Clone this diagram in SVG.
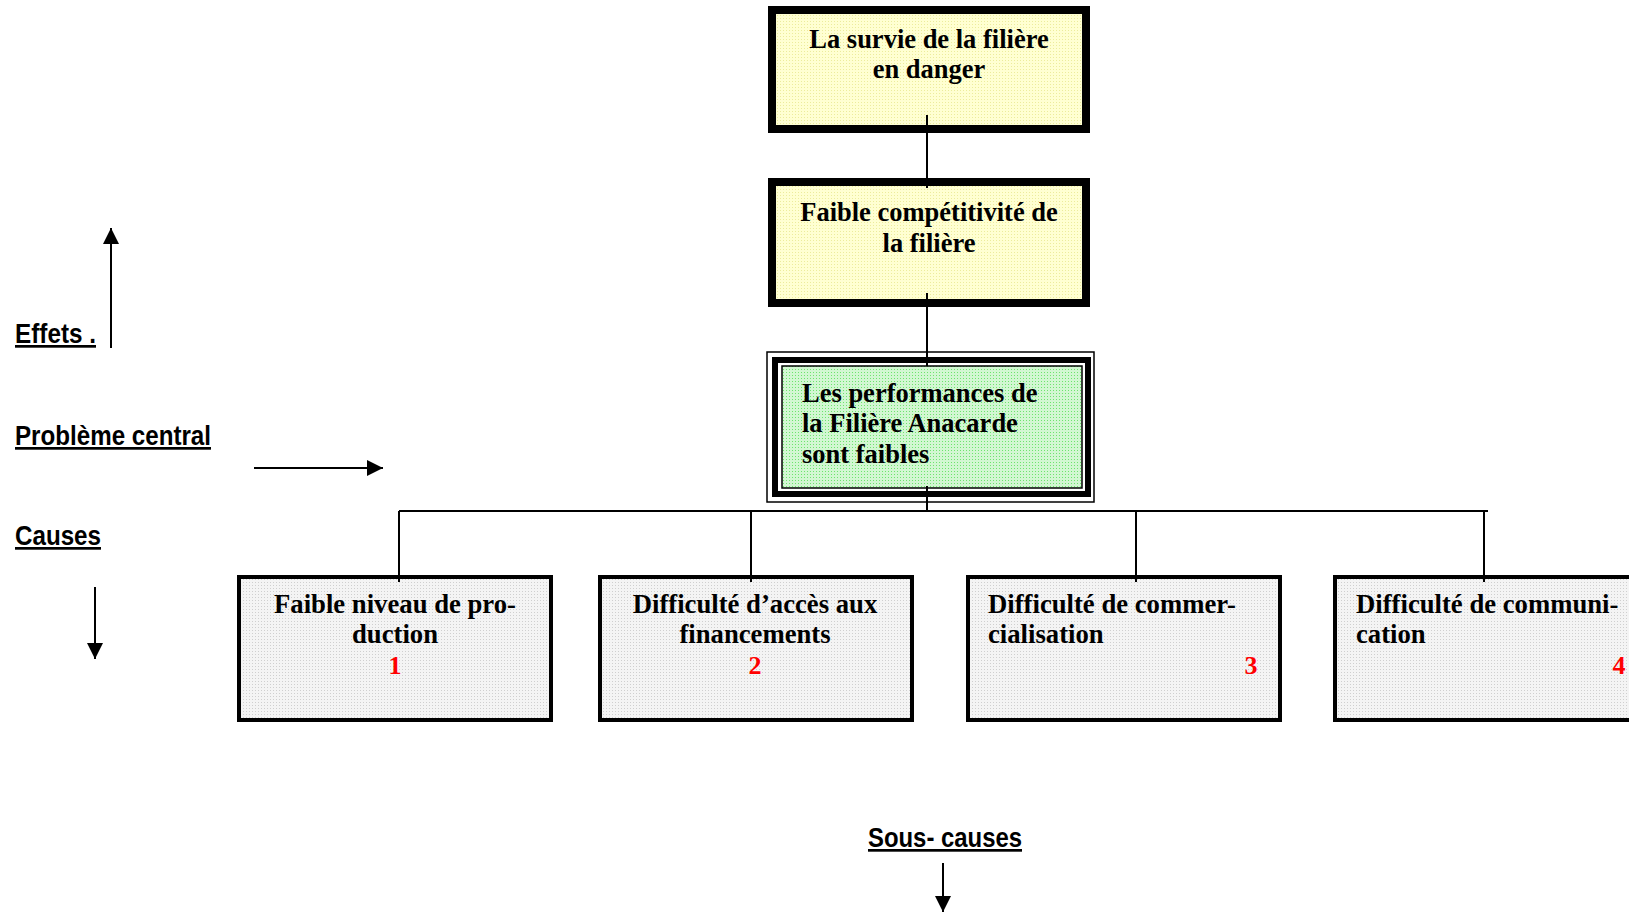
<svg xmlns="http://www.w3.org/2000/svg" width="1629" height="912" viewBox="0 0 1629 912">
<defs>
<pattern id="py" width="3" height="3" patternUnits="userSpaceOnUse"><rect width="3" height="3" fill="#ffffd2"/><rect width="1" height="1" fill="#ecec9c"/></pattern>
<pattern id="pg" width="3" height="3" patternUnits="userSpaceOnUse"><rect width="3" height="3" fill="#d2f7d2"/><rect width="1" height="1" fill="#6de46d"/></pattern>
<pattern id="pw" width="3" height="3" patternUnits="userSpaceOnUse"><rect width="3" height="3" fill="#f4f4f4"/><rect width="1" height="1" fill="#cfcfcf"/></pattern>
<marker id="ah2" viewBox="0 0 16 16" refX="16" refY="8" markerWidth="16" markerHeight="16" markerUnits="userSpaceOnUse" orient="auto"><path d="M0,0 L16,8 L0,16 z" fill="#000"/></marker>
</defs>
<style>
.t{font-family:"Liberation Serif","Times New Roman",serif;font-weight:bold;font-size:26.5px;fill:#000}
.b{font-family:"Liberation Serif","Times New Roman",serif;font-weight:bold;font-size:26.7px;fill:#000}
.n{font-family:"Liberation Serif","Times New Roman",serif;font-weight:bold;font-size:26px;fill:#ff0000}
.l{font-family:"Liberation Sans",Arial,sans-serif;font-weight:bold;font-size:27px;fill:#000;text-decoration:underline}
.ln{stroke:#000;stroke-width:2;fill:none}
.ar{stroke:#000;stroke-width:2;fill:none}
</style>

<g id="legend">
<text class="l" x="15" y="343" textLength="81" lengthAdjust="spacingAndGlyphs">Effets .</text>
<text class="l" x="15" y="445" textLength="196" lengthAdjust="spacingAndGlyphs">Problème central</text>
<text class="l" x="15" y="545" textLength="86" lengthAdjust="spacingAndGlyphs">Causes</text>
<text class="l" x="868" y="847" textLength="154" lengthAdjust="spacingAndGlyphs">Sous- causes</text>
<line class="ar" x1="111" y1="348" x2="111" y2="228" marker-end="url(#ah2)"/>
<line class="ar" x1="254" y1="468" x2="383" y2="468" marker-end="url(#ah2)"/>
<line class="ar" x1="95" y1="587" x2="95" y2="659" marker-end="url(#ah2)"/>
<line class="ar" x1="943" y1="863" x2="943" y2="912" marker-end="url(#ah2)"/>
</g>

<g id="effet2">
<rect x="772" y="10" width="314" height="119" fill="url(#py)" stroke="#000" stroke-width="8"/>
<text class="t" x="929" y="48" text-anchor="middle">La survie de la filière</text>
<text class="t" x="929" y="78" text-anchor="middle">en danger</text>
</g>

<g id="effet1">
<rect x="772" y="182" width="314" height="121" fill="url(#py)" stroke="#000" stroke-width="8"/>
<text class="t" x="929" y="221" text-anchor="middle">Faible compétitivité de</text>
<text class="t" x="929" y="252" text-anchor="middle">la filière</text>
</g>

<g id="probleme">
<rect x="767" y="352" width="327" height="150" fill="#fff" stroke="#000" stroke-width="1.5"/>
<rect x="775" y="360" width="313" height="134" fill="#fff" stroke="#000" stroke-width="6"/>
<rect x="782" y="366" width="300" height="122" fill="url(#pg)" stroke="#000" stroke-width="1.5"/>
<text class="t" x="802" y="402">Les performances de</text>
<text class="t" x="802" y="432">la Filière Anacarde</text>
<text class="t" x="802" y="463">sont faibles</text>
</g>

<g id="cause1">
<rect x="239" y="577" width="312" height="143" fill="url(#pw)" stroke="#000" stroke-width="4"/>
<text class="b" x="395" y="613" text-anchor="middle">Faible niveau de pro-</text>
<text class="b" x="395" y="643" text-anchor="middle">duction</text>
<text class="n" x="395" y="674" text-anchor="middle">1</text>
</g>

<g id="cause2">
<rect x="600" y="577" width="312" height="143" fill="url(#pw)" stroke="#000" stroke-width="4"/>
<text class="b" x="755" y="613" text-anchor="middle">Difficulté d’accès aux</text>
<text class="b" x="755" y="643" text-anchor="middle">financements</text>
<text class="n" x="755" y="674" text-anchor="middle">2</text>
</g>

<g id="cause3">
<rect x="968" y="577" width="312" height="143" fill="url(#pw)" stroke="#000" stroke-width="4"/>
<text class="b" x="988" y="613">Difficulté de commer-</text>
<text class="b" x="988" y="643">cialisation</text>
<text class="n" x="1251" y="674" text-anchor="middle">3</text>
</g>

<g id="cause4">
<rect x="1335" y="577" width="312" height="143" fill="url(#pw)" stroke="#000" stroke-width="4"/>
<text class="b" x="1356" y="613">Difficulté de communi-</text>
<text class="b" x="1356" y="643">cation</text>
<text class="n" x="1619" y="674" text-anchor="middle">4</text>
</g>

<g id="connectors">
<line class="ln" x1="927" y1="115" x2="927" y2="188"/>
<line class="ln" x1="927" y1="293" x2="927" y2="366"/>
<line class="ln" x1="927" y1="486" x2="927" y2="511"/>
<line class="ln" x1="399" y1="511" x2="1488" y2="511"/>
<line class="ln" x1="399" y1="511" x2="399" y2="582"/>
<line class="ln" x1="751" y1="511" x2="751" y2="582"/>
<line class="ln" x1="1136" y1="511" x2="1136" y2="582"/>
<line class="ln" x1="1484" y1="511" x2="1484" y2="582"/>
</g>
</svg>
